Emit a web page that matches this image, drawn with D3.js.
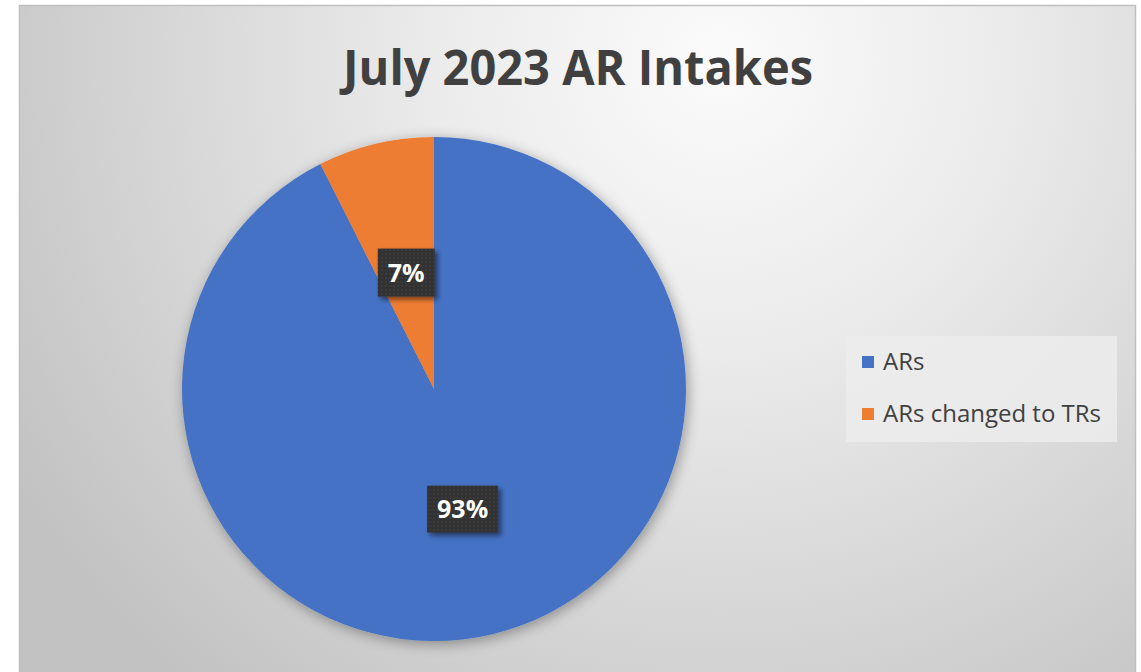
<!DOCTYPE html>
<html>
<head>
<meta charset="utf-8">
<script src="https://cdn.jsdelivr.net/npm/d3@7"></script>
<style>
html,body{margin:0;padding:0;background:#fff;overflow:hidden;}
svg{display:block;}
</style>
</head>
<body>
<script>
const categories = ["ARs", "ARs changed to TRs"];
const values = [87, 7];
const colors = ["#4472C4", "#ED7D31"];
const title = "July 2023 AR Intakes";

const W = 1141, H = 672;
const svg = d3.select("body").append("svg").attr("width", W).attr("height", H);
const defs = svg.append("defs");

const bg = defs.append("radialGradient").attr("id","bgGrad")
  .attr("gradientUnits","userSpaceOnUse")
  .attr("cx",720).attr("cy",60).attr("r",820);
bg.append("stop").attr("offset","0").attr("stop-color","#fbfbfb");
bg.append("stop").attr("offset","0.35").attr("stop-color","#ebebeb");
bg.append("stop").attr("offset","1").attr("stop-color","#c2c2c2");

const sh = defs.append("filter").attr("id","pieShadow").attr("x","-20%").attr("y","-20%").attr("width","140%").attr("height","140%");
sh.append("feGaussianBlur").attr("in","SourceAlpha").attr("stdDeviation",7).attr("result","b");
sh.append("feOffset").attr("in","b").attr("dx",2).attr("dy",3).attr("result","o");
sh.append("feComponentTransfer").attr("in","o").attr("result","o2")
  .append("feFuncA").attr("type","linear").attr("slope",0.35);
const m = sh.append("feMerge");
m.append("feMergeNode").attr("in","o2");
m.append("feMergeNode").attr("in","SourceGraphic");

const ls = defs.append("filter").attr("id","lblShadow").attr("x","-30%").attr("y","-30%").attr("width","160%").attr("height","160%");
ls.append("feGaussianBlur").attr("in","SourceAlpha").attr("stdDeviation",2.5).attr("result","b");
ls.append("feOffset").attr("in","b").attr("dx",3).attr("dy",3).attr("result","o");
ls.append("feComponentTransfer").attr("in","o").attr("result","o2")
  .append("feFuncA").attr("type","linear").attr("slope",0.5);
const m2 = ls.append("feMerge");
m2.append("feMergeNode").attr("in","o2");
m2.append("feMergeNode").attr("in","SourceGraphic");

const pat = defs.append("pattern").attr("id","dots").attr("patternUnits","userSpaceOnUse").attr("width",4).attr("height",4);
pat.append("rect").attr("width",4).attr("height",4).attr("fill","#333333");
pat.append("circle").attr("cx",2).attr("cy",2).attr("r",0.8).attr("fill","#444444");

// chart frame
svg.append("rect").attr("x",19.5).attr("y",5.5).attr("width",1116).attr("height",700)
  .attr("fill","url(#bgGrad)").attr("stroke","#bfbfbf").attr("stroke-width",1.5);

// title
const t = svg.append("text").attr("x",578).attr("y",85).attr("text-anchor","middle")
  .attr("font-family","'Open Sans', sans-serif").attr("font-weight",700)
  .attr("font-size",48).attr("fill","#404040").text(title);
const tw = t.node().getComputedTextLength();
if (tw > 470) t.attr("textLength",470).attr("lengthAdjust","spacingAndGlyphs");

// pie
const cx = 434, cy = 389, R = 252;
const pie = d3.pie().sort(null).value(d => d)(values);
const arc = d3.arc().innerRadius(0).outerRadius(R);
const g = svg.append("g").attr("transform",`translate(${cx},${cy})`).attr("filter","url(#pieShadow)");
g.selectAll("path").data(pie).join("path")
  .attr("d",arc).attr("fill",(d,i)=>colors[i]);

// labels
const total = d3.sum(values);
const labelPos = [
  {w:71, h:47},
  {w:57, h:48}
];
const lblArcs = [d3.arc().innerRadius(0).outerRadius(R*0.98), d3.arc().innerRadius(0).outerRadius(R*0.95)];
pie.forEach((d,i)=>{
  const c = lblArcs[i].centroid(d);
  const x = cx + c[0], y = cy + c[1];
  const lp = labelPos[i];
  const lg = svg.append("g").attr("filter","url(#lblShadow)");
  lg.append("rect").attr("x",x-lp.w/2).attr("y",y-lp.h/2).attr("width",lp.w).attr("height",lp.h)
    .attr("fill","url(#dots)");
  svg.append("text").attr("x",x).attr("y",y+9).attr("text-anchor","middle")
    .attr("font-family","'Open Sans', sans-serif").attr("font-weight",700)
    .attr("font-size",25).attr("fill","#ffffff")
    .text(Math.round(values[i]/total*100)+"%");
});

// legend
svg.append("rect").attr("x",846).attr("y",336).attr("width",271).attr("height",106).attr("fill","#ececec").attr("opacity",0.85);
const lgd = svg.append("g");
categories.forEach((c,i)=>{
  const y = 362 + i*52;
  lgd.append("rect").attr("x",862).attr("y",y-6).attr("width",12).attr("height",12).attr("fill",colors[i]);
  lgd.append("text").attr("x",883).attr("y",y+8).attr("font-family","'Open Sans', sans-serif")
    .attr("font-size",24).attr("fill","#404040").text(c);
});
</script>
</body>
</html>
